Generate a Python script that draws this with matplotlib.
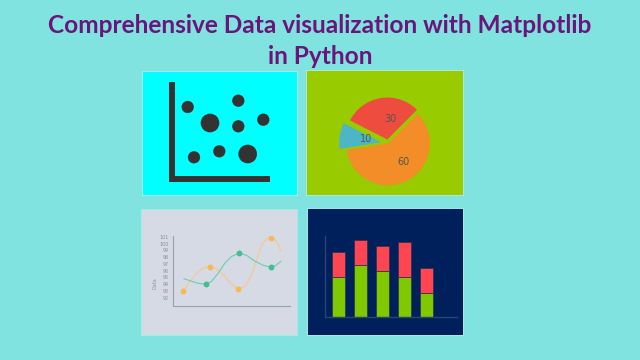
import matplotlib.pyplot as plt

W, H = 640, 360

title_lines = ["Comprehensive Data visualization with Matplotlib", "in Python"]

# scatter icon (top left)
scatter_x = [15.4, 66, 37.7, 66, 91, 21.7, 47, 75.4]
scatter_y = [72.3, 78.6, 56.3, 53, 59.6, 22, 28, 25.3]
scatter_big = [0, 0, 1, 0, 0, 0, 0, 1]

# pie (top right)
pie_values = [30, 10, 60]
pie_labels = ["30", "10", "60"]

# smooth lines (bottom left)
orange_x = [10, 16.7, 23.4, 30, 36.7, 43.4, 50, 56.7, 65, 71.7, 78.4, 84, 88.4, 93.4, 97.4, 101.7, 105, 107.7]
orange_y = [92.97, 94.44, 95.66, 96.4, 96.54, 96.29, 95.41, 94.19, 93.26, 93.71, 95.41, 97.87, 99.82, 100.71,
            100.81, 100.56, 99.82, 98.85]
orange_mx = [10, 36.7, 65, 97.4]
orange_my = [92.97, 96.54, 93.26, 100.81]
green_x = [10.7, 16.7, 23.4, 32.4, 38.4, 45, 51.7, 58.4, 66, 73.4, 81.7, 90, 97.4, 102.7, 107.4]
green_y = [94.82, 94.53, 94.19, 94.0, 94.44, 95.66, 97.13, 98.12, 98.56, 98.26, 97.38, 96.79, 96.5, 96.79, 97.38]
green_mx = [32.4, 66, 97.4]
green_my = [94.0, 98.56, 96.5]
line_ticks = list(range(92, 102))

# stacked bars (bottom right)
bar_green = [40, 52, 46, 40, 24]
bar_red = [25, 25, 25, 35, 25]


def rect(x0, y0, x1, y1):
    # pixel box, origin top-left -> figure fraction
    return [x0 / W, 1 - y1 / H, (x1 - x0) / W, (y1 - y0) / H]


def panel(box, color):
    ax = fig.add_axes(rect(*box))
    ax.set_facecolor(color)
    ax.set_xticks([])
    ax.set_yticks([])
    for s in ax.spines.values():
        s.set_color("#a8ebe8")
        s.set_linewidth(0.7)
    return ax


def inner(box):
    ax = fig.add_axes(rect(*box))
    ax.patch.set_alpha(0)
    return ax


fig = plt.figure(figsize=(6.4, 3.6), dpi=100)
fig.patch.set_facecolor("#80e3e0")

fig.text(0.5, 1 - 25.5 / H, title_lines[0], ha="center", va="center", fontsize=17.6,
         fontweight="bold", color="#6c147a", family="Lato")
fig.text(0.5, 1 - 56 / H, title_lines[1], ha="center", va="center", fontsize=17.6,
         fontweight="bold", color="#6c147a", family="Lato")

# --- scatter icon
panel((142, 71, 297, 195), "#00ffff")
ax = inner((172.3, 85.3, 267, 179.3))
sizes = [181 if b else 78 for b in scatter_big]
ax.scatter(scatter_x, scatter_y, s=sizes, color="#333333", linewidths=0, clip_on=False)
ax.set_xlim(0, 94.7)
ax.set_ylim(0, 94)
ax.set_xticks([])
ax.set_yticks([])
for side in ["top", "right"]:
    ax.spines[side].set_visible(False)
for side in ["left", "bottom"]:
    ax.spines[side].set_color("#333333")
    ax.spines[side].set_linewidth(4.3)

# --- pie
panel((306, 70, 463, 195), "#99cc00")
ax = inner((306, 70, 463, 195))
ax.pie(pie_values, labels=pie_labels, colors=["#ee4c3e", "#4cb5c6", "#f28d28"],
       explode=[4, 7, 0], startangle=45, center=(82, 51.6), radius=41.9,
       labeldistance=0.5, textprops={"fontsize": 7, "color": "#555555"},
       wedgeprops={"linewidth": 0})
ax.set_xlim(0, 157)
ax.set_ylim(0, 125)

# --- lines
panel((141, 209, 297, 335), "#d5dae5")
ax = inner((173.3, 235.7, 290, 305.5))
ax.plot(orange_x, orange_y, color="#f6c98a", linewidth=0.8)
ax.plot(green_x, green_y, color="#6ccdb0", linewidth=0.8)
ax.plot(orange_mx, orange_my, "o", color="#f7b955", markersize=3.2)
ax.plot(green_mx, green_my, "o", color="#3fbf92", markersize=3.2)
ax.set_xlim(0, 116.7)
ax.set_ylim(90.88, 101.15)
ax.set_xticks([])
ax.set_yticks(line_ticks)
ax.tick_params(axis="y", length=0, pad=3.5, labelsize=3.5, labelcolor="#8c919b")
ax.set_ylabel("Data", fontsize=3.5, color="#8c919b")
ax.yaxis.set_label_coords(-0.137, 0.318)
for side in ["top", "right"]:
    ax.spines[side].set_visible(False)
for side in ["left", "bottom"]:
    ax.spines[side].set_color("#9a9fa9")
    ax.spines[side].set_linewidth(0.8)

# --- stacked bars
panel((307, 208, 463, 335), "#00205c")
ax = inner((325, 235.7, 456.7, 316.7))
pos = range(len(bar_green))
ax.bar(pos, bar_green, width=0.59, color="#80c800", edgecolor="#24344f", linewidth=0.5)
ax.bar(pos, bar_red, width=0.59, bottom=bar_green, color="#ff4552", edgecolor="#24344f", linewidth=0.5)
ax.set_xlim(-0.59, 5.37)
ax.set_ylim(0, 81)
ax.set_xticks([])
ax.set_yticks([])
for side in ["top", "right"]:
    ax.spines[side].set_visible(False)
for side in ["left", "bottom"]:
    ax.spines[side].set_color("#2c4272")
    ax.spines[side].set_linewidth(1)

fig.savefig("out.png", dpi=100, facecolor=fig.get_facecolor())
